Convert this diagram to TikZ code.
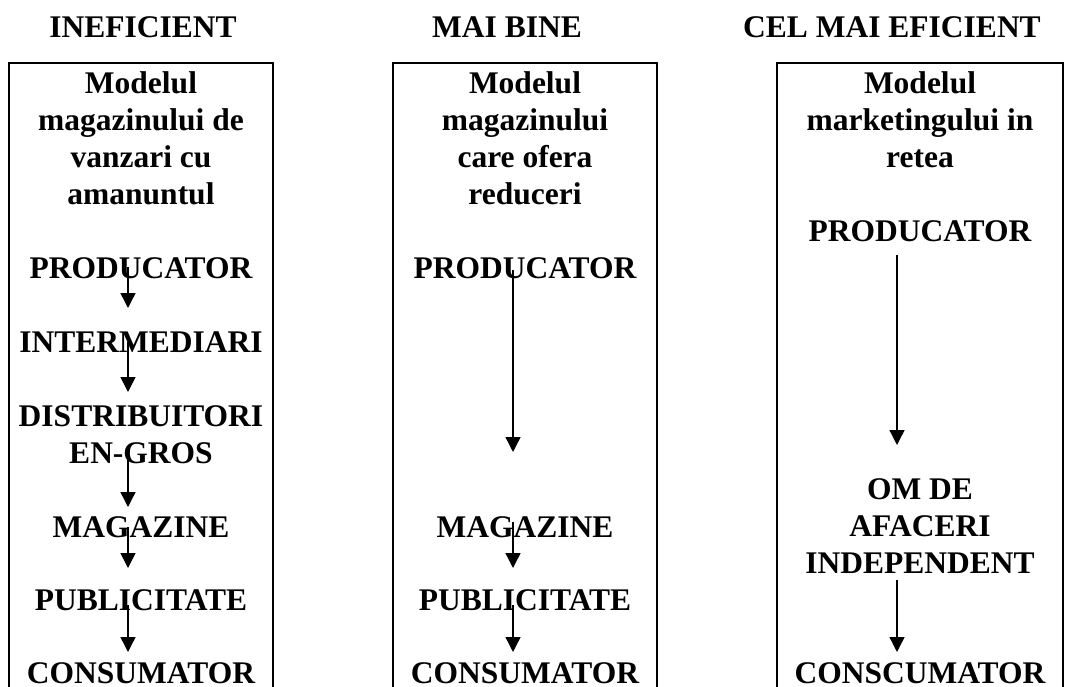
\documentclass[tikz,border=0pt]{standalone}
\usepackage{fontspec}
\setmainfont{Liberation Serif}
\usetikzlibrary{positioning,arrows.meta}

\begin{document}
\begin{tikzpicture}[
x=1pt, y=-1pt,
font=\fontsize{31.5}{36.8}\selectfont\bfseries,
lbl/.style={anchor=base, inner sep=0pt, align=center},
arrow/.style={-{Triangle[length=15pt,width=15pt]}, line width=1.4pt},
frame/.style={line width=2.2pt}
]
\useasboundingbox (0,0) rectangle (1065,687);
\node[lbl] (headA) at (143,38) {INEFICIENT};
\node[lbl] (headB) at (507,38) {MAI BINE};
\node[lbl] (headC) at (892,38) {CEL MAI EFICIENT};
\draw[frame] (9,700) |- (273,63) -- (273,700);
\draw[frame] (393,700) |- (657,63) -- (657,700);
\draw[frame] (777,700) |- (1063,63) -- (1063,700);
\coordinate (axA) at (128,0);
\coordinate (axB) at (513,0);
\coordinate (axC) at (897,0);
% multi-line nodes sit on the baseline of their last line
\node[lbl] (modelA) at (141,204.4) {Modelul\\magazinului de\\vanzari cu\\amanuntul};
\node[lbl] (prodA) at (141,278) {PRODUCATOR};
\node[lbl] (interA) at (141,352) {INTERMEDIARI};
\node[lbl] (distA) at (141,463) {DISTRIBUITORI\\EN-GROS};
\node[lbl] (magA) at (141,537) {MAGAZINE};
\node[lbl] (pubA) at (141,610) {PUBLICITATE};
\node[lbl] (consA) at (141,683) {CONSUMATOR};
\node[lbl] (modelB) at (525,204.4) {Modelul\\magazinului\\care ofera\\reduceri};
\node[lbl] (prodB) at (525,278) {PRODUCATOR};
\node[lbl] (magB) at (525,537) {MAGAZINE};
\node[lbl] (pubB) at (525,610) {PUBLICITATE};
\node[lbl] (consB) at (525,683) {CONSUMATOR};
\node[lbl] (modelC) at (920,167.6) {Modelul\\marketingului in\\retea};
\node[lbl] (prodC) at (920,241) {PRODUCATOR};
\node[lbl] (omC) at (920,573) {OM DE\\AFACERI\\INDEPENDENT};
\node[lbl] (consC) at (920,683) {CONSCUMATOR};
\draw[arrow] ([yshift=11pt]prodA.base -| axA) -- ([yshift=44pt]interA.base -| axA);
\draw[arrow] ([yshift=10pt]interA.base -| axA) -- ([yshift=71pt]distA.base -| axA);
\draw[arrow] ([yshift=5pt]distA.base -| axA) -- ([yshift=30pt]magA.base -| axA);
\draw[arrow] ([yshift=10pt]magA.base -| axA) -- ([yshift=42pt]pubA.base -| axA);
\draw[arrow] ([yshift=5pt]pubA.base -| axA) -- ([yshift=31pt]consA.base -| axA);
\draw[arrow] ([yshift=8pt]prodB.base -| axB) -- ([yshift=85pt]magB.base -| axB);
\draw[arrow] ([yshift=15pt]magB.base -| axB) -- ([yshift=42pt]pubB.base -| axB);
\draw[arrow] ([yshift=5pt]pubB.base -| axB) -- ([yshift=31pt]consB.base -| axB);
\draw[arrow] ([yshift=-14pt]prodC.base -| axC) -- ([yshift=128pt]omC.base -| axC);
\draw[arrow] ([yshift=-7pt]omC.base -| axC) -- ([yshift=31pt]consC.base -| axC);
\end{tikzpicture}
\end{document}
